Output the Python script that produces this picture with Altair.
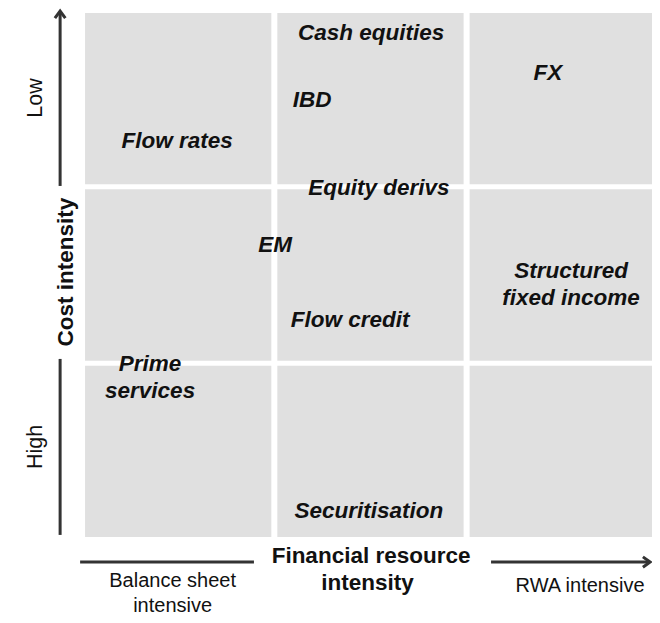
import altair as alt
import pandas as pd

# 3x3 grid cells (column = financial resource intensity, row = cost intensity)
cell_col = [0, 1, 2, 0, 1, 2, 0, 1, 2]
cell_row = [0, 0, 0, 1, 1, 1, 2, 2, 2]

# business lines and their positions in grid units
business = ["Cash equities", "IBD", "FX", "Flow rates", "Equity derivs", "EM",
            "Structured\nfixed income", "Flow credit", "Prime\nservices", "Securitisation"]
resource_x = [1.503, 1.196, 2.423, 0.494, 1.544, 1.004, 2.543, 1.394, 0.354, 1.492]
cost_y = [2.872, 2.492, 2.646, 2.260, 1.993, 1.670, 1.520, 1.245, 0.995, 0.162]

# axis annotation labels
cost_title = ["Cost intensity"]
cost_title_x = [-0.085]
cost_title_y = [1.517]

res_title = ["Financial resource", "intensity"]
res_title_x = [1.503, 1.485]
res_title_y = [-0.134, -0.287]

rot_labels = ["Low", "High"]
rot_x = [-0.210, -0.210]
rot_y = [2.504, 0.525]

end_labels = ["Balance sheet", "intensive", "RWA intensive"]
end_x = [0.471, 0.471, 2.590]
end_y = [-0.269, -0.411, -0.300]

# arrow shafts (segments) and heads
seg_x = [-0.114, -0.114, -0.010, 2.127]
seg_x2 = [-0.114, -0.114, 0.894, 2.945]
seg_y = [0.026, 2.005, -0.128, -0.128]
seg_y2 = [1.024, 2.990, -0.128, -0.128]
head_x = [-0.114, 2.954]
head_y = [2.997, -0.128]
head_angle = [0, 90]

W, H = 644, 607
xs = alt.Scale(domain=[-0.385, 2.964])
ys = alt.Scale(domain=[-0.4282, 3.0142])
gx, gy = 0.0156, 0.014

X = lambda: alt.X("x:Q", scale=xs, axis=None)
Y = lambda: alt.Y("y:Q", scale=ys, axis=None)

cells = pd.DataFrame({"c": cell_col, "r": cell_row})
cells["x"] = cells["c"] + gx
cells["x2"] = cells["c"] + 1 - gx
cells["y"] = cells["r"] + gy
cells["y2"] = cells["r"] + 1 - gy

rects = alt.Chart(cells).mark_rect(color="#e0e0e0").encode(
    x=X(), x2="x2:Q", y=Y(), y2="y2:Q")

pts = pd.DataFrame({"label": business, "x": resource_x, "y": cost_y})
labels = alt.Chart(pts).mark_text(
    font="Liberation Sans", fontSize=22.5, fontWeight="bold", fontStyle="italic",
    color="#111111", lineBreak="\n", lineHeight=27, baseline="middle", align="center"
).encode(x=X(), y=Y(), text="label:N")

segs = pd.DataFrame({"x": seg_x, "x2": seg_x2, "y": seg_y, "y2": seg_y2})
rules = alt.Chart(segs).mark_rule(color="#333333", strokeWidth=3).encode(
    x=X(), x2="x2:Q", y=Y(), y2="y2:Q")

heads = pd.DataFrame({"x": head_x, "y": head_y, "a": head_angle})
arrowheads = alt.Chart(heads).mark_point(
    shape="M -0.8 1.1 L 0 0 L 0.8 1.1", size=170, filled=False,
    color="#333333", strokeWidth=3, opacity=1
).encode(x=X(), y=Y(), angle=alt.Angle("a:Q", scale=None))

cost_df = pd.DataFrame({"label": cost_title, "x": cost_title_x, "y": cost_title_y})
cost_txt = alt.Chart(cost_df).mark_text(
    font="Liberation Sans", fontSize=22.5, fontWeight="bold", color="#111111",
    baseline="middle", align="center", angle=270
).encode(x=X(), y=Y(), text="label:N")

res_df = pd.DataFrame({"label": res_title, "x": res_title_x, "y": res_title_y})
res_txt = alt.Chart(res_df).mark_text(
    font="Liberation Sans", fontSize=22.5, fontWeight="bold", color="#111111",
    baseline="alphabetic", align="center"
).encode(x=X(), y=Y(), text="label:N")

rot_df = pd.DataFrame({"label": rot_labels, "x": rot_x, "y": rot_y})
rot_txt = alt.Chart(rot_df).mark_text(
    font="Liberation Sans", fontSize=21.5, color="#111111",
    baseline="alphabetic", align="center", angle=270
).encode(x=X(), y=Y(), text="label:N")

end_df = pd.DataFrame({"label": end_labels, "x": end_x, "y": end_y})
end_txt = alt.Chart(end_df).mark_text(
    font="Liberation Sans", fontSize=20, color="#111111",
    baseline="alphabetic", align="center"
).encode(x=X(), y=Y(), text="label:N")

chart = alt.layer(rects, rules, arrowheads, labels, cost_txt, res_txt, rot_txt, end_txt).properties(
    width=W, height=H, autosize=alt.AutoSizeParams(type="none"), padding=0
).configure_view(stroke=None)

chart.save("out.html", embed_options={"renderer": "svg", "actions": False})
